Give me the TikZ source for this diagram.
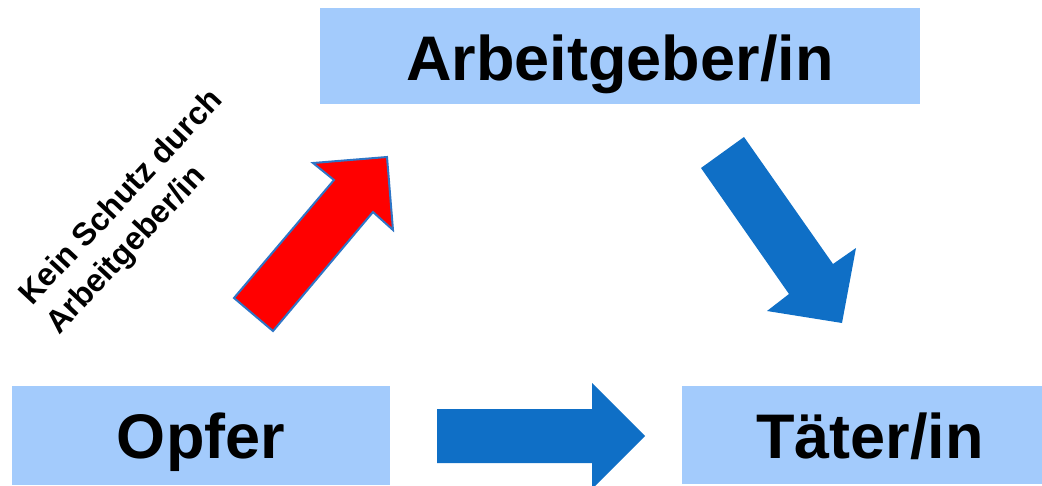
\documentclass[tikz,border=0pt]{standalone}
\usepackage{fontspec}
\setmainfont{Liberation Sans}
\definecolor{boxblue}{RGB}{163,203,252}
\definecolor{arrblue}{RGB}{15,111,198}
\definecolor{edgeblue}{RGB}{46,117,198}
\definecolor{arrred}{RGB}{255,0,0}
\begin{document}
\begin{tikzpicture}[x=1pt,y=-1pt,
  box/.style={fill=boxblue,draw=none,inner sep=0pt},
  bigtext/.style={font=\fontsize{63}{70}\selectfont\bfseries,inner sep=0pt,anchor=base},
  smalltext/.style={font=\fontsize{32}{37}\selectfont\bfseries,inner sep=0pt,anchor=base west,rotate=47},
  bluearrow/.style={fill=arrblue,draw=none},
  redarrow/.style={fill=arrred,draw=edgeblue,line width=2pt,line join=miter}]
\useasboundingbox (0,0) rectangle (1042,485);
\clip (0,0) rectangle (1042,485);
% boxes
\node[box,minimum width=600pt,minimum height=96pt] (boxA) at (620,56) {};
\node[box,minimum width=378pt,minimum height=99pt] (boxO) at (201,435.5) {};
\node[box,minimum width=360pt,minimum height=98pt] (boxT) at (862,435) {};
% texts
\node[bigtext] (tA) at (620,80) {Arbeitgeber/in};
\node[bigtext] (tO) at (201,458) {Opfer};
\node[bigtext] (tT) at (870,458) {Täter/in};
\node[smalltext] (l1) at (32,307) {Kein Schutz durch};
\node[smalltext] (l2) at (59,336) {Arbeitgeber/in};
% arrows
\fill[bluearrow] (437,409) -- (592,409) -- (592,383) -- (645,436) -- (592,489) -- (592,463) -- (437,463) -- cycle;
\fill[bluearrow] (701,168) -- (744,137) -- (833,264) -- (856,248) -- (842,323) -- (767,311) -- (789,294) -- cycle;
\filldraw[redarrow] (273,331) -- (234,298) -- (334,180) -- (313,163) -- (387,157) -- (393,230) -- (373,212) -- cycle;
\end{tikzpicture}
\end{document}
